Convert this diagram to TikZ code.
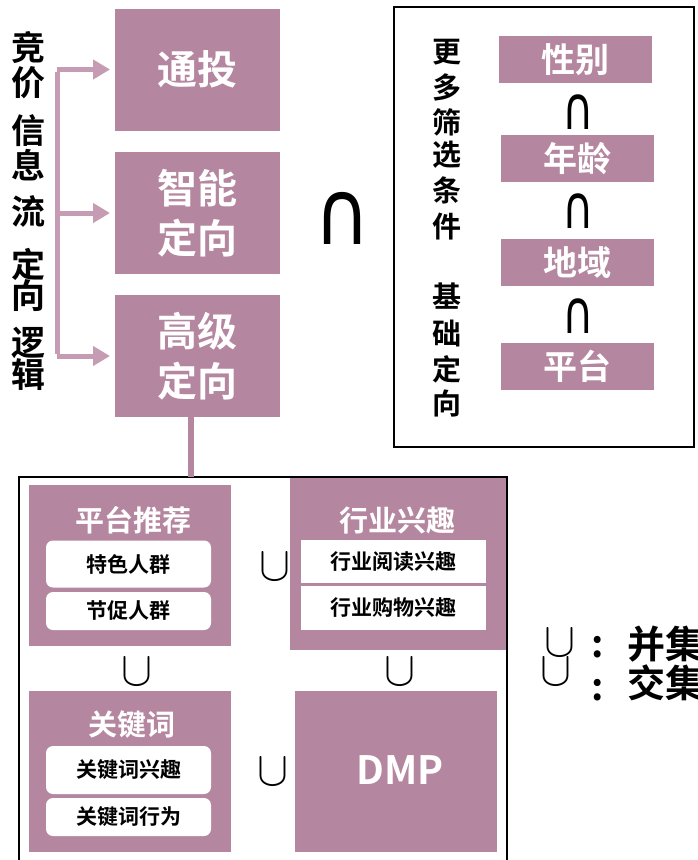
\documentclass[tikz,border=0pt]{standalone}
\usepackage{fontspec}
\setmainfont{Noto Sans CJK SC}[BoldFont={Noto Sans CJK SC Bold}]
\newfontfamily\symf{DejaVu Sans}
\usetikzlibrary{arrows.meta}
\definecolor{mauve}{RGB}{181,134,159}
\definecolor{mauvel}{RGB}{198,156,180}
\tikzset{
  bigbox/.style={fill=mauve, minimum width=165pt, minimum height=122pt, inner sep=0pt, outer sep=0pt,
    text=white, align=center, font=\bfseries\fontsize{40}{50}\selectfont},
  tagbox/.style={fill=mauve, minimum width=153pt, minimum height=47pt, inner sep=0pt, outer sep=0pt,
    text=white, font=\bfseries\fontsize{34}{40}\selectfont},
  panel/.style={fill=mauve, inner sep=0pt, outer sep=0pt},
  ptitle/.style={text=white, inner sep=0pt, font=\bfseries\fontsize{29}{32}\selectfont},
  subr/.style={fill=white, rounded corners=7pt, minimum width=165pt, inner sep=0pt, outer sep=0pt,
    font=\bfseries\fontsize{21}{24}\selectfont},
  subs/.style={fill=white, minimum width=185pt, inner sep=0pt, outer sep=0pt,
    font=\bfseries\fontsize{21}{24}\selectfont},
  lchar/.style={inner sep=0pt, font=\bfseries\fontsize{34}{34}\selectfont},
  rchar/.style={inner sep=0pt, font=\bfseries\fontsize{29}{29}\selectfont},
  cupsym/.style={inner sep=0pt},
  capsym/.style={inner sep=0pt, xscale=0.72, font=\symf\fontsize{60}{60}\selectfont},
  bigcap/.style={inner sep=0pt, xscale=0.85, font=\symf\fontsize{90}{90}\selectfont},
  frame/.style={draw=black, line width=2pt, inner sep=0pt, outer sep=0pt},
  brk/.style={draw=mauvel, line width=5pt},
  brkarrow/.style={draw=mauvel, line width=5pt, -{Triangle[length=17pt,width=19pt]}, shorten >=5pt},
  conn/.style={draw=mauve, line width=6pt},
  legend/.style={inner sep=0pt, font=\bfseries\fontsize{38}{38}\selectfont},
}
\newcommand{\mycup}{\resizebox{31pt}{27pt}{$\cup$}}
\begin{document}
\begin{tikzpicture}[x=1pt, y=-1pt]
\clip (0,0) rectangle (697,860);
\fill[white] (0,0) rectangle (697,860);

% left vertical text
\foreach \c/\yy [count=\i] in {竞/47, 价/83, 信/131, 息/165, 流/211, 定/264, 向/296, 逻/343, 辑/375}
  \node[lchar] (lc\i) at (29,\yy) {\c};

% three main boxes
\node[bigbox] (tt) at (197.5,69.5) {通投};
\node[bigbox] (zn) at (197.5,213) {智能\\定向};
\node[bigbox] (gj) at (197.5,356) {高级\\定向};

% bracket with arrows
\coordinate (b1) at (57,69.5);
\coordinate (b3) at (57,356);
\draw[brk] ([yshift=-2.5pt]b1) -- ([yshift=2.5pt]b3);
\draw[brkarrow] (b1) -- (tt.west);
\draw[brkarrow] (b1 |- zn.west) -- (zn.west);
\draw[brkarrow] (b3) -- (gj.west);

% big intersection
\node[bigcap] (bcap) at (342,218) {∩};

% right panel
\node[frame, minimum width=300pt, minimum height=440pt] (rp) at (544,227) {};
\foreach \c/\yy [count=\i] in {更/52, 多/87, 筛/122, 选/155, 条/190, 件/227, 基/296, 础/333, 定/369, 向/403}
  \node[rchar] (rc\i) at (447,\yy) {\c};
\node[tagbox] (xb) at (575.5,59.5) {性别};
\node[tagbox] (nl) at (577.5,158.5) {年龄};
\node[tagbox] (dy) at (577.5,262.5) {地域};
\node[tagbox] (pt) at (577.5,366.5) {平台};
\node[capsym] (c1) at (578,112) {∩};
\node[capsym] (c2) at (578,211) {∩};
\node[capsym] (c3) at (578,316) {∩};

% bottom panel
\node[panel, minimum width=202pt, minimum height=161pt] (ptj) at (130,565.5) {};
\node[ptitle] (ptjt) at (133,520) {平台推荐};
\node[subr, minimum height=47pt] (tsrq) at (128.5,564) {特色人群};
\node[subr, minimum height=38pt] (jcrq) at (128.5,611) {节促人群};

\node[panel, minimum width=217pt, minimum height=172pt] (hyxq) at (398.5,564) {};
\node[ptitle] (hyxqt) at (397,520) {行业兴趣};
\node[subs, minimum height=43pt] (hyyd) at (393.5,561.5) {行业阅读兴趣};
\node[subs, minimum height=44pt] (hygw) at (393.5,608) {行业购物兴趣};

\node[panel, minimum width=202pt, minimum height=161pt] (gjc) at (130,771.5) {};
\node[ptitle] (gjct) at (132,725) {关键词};
\node[subr, minimum height=48pt] (gjcxq) at (128.5,770) {关键词兴趣};
\node[subr, minimum height=38pt] (gjcxw) at (128.5,817) {关键词行为};

\node[panel, minimum width=202pt, minimum height=161pt] (dmp) at (396,771.5) {};
\node[text=white, inner sep=0pt, font=\bfseries\fontsize{39}{39}\selectfont] (dmpt) at (400,770) {DMP};

\node[cupsym] (u1) at (275,567) {\mycup};
\node[cupsym] (u2) at (137,672) {\mycup};
\node[cupsym] (u3) at (400,672) {\mycup};
\node[cupsym] (u4) at (273,772) {\mycup};

\node[frame, minimum width=488pt, minimum height=420pt] (bb) at (263,687) {};

% connector from 高级定向 to bottom panel
\draw[conn] ([xshift=-6.5pt]gj.south) -- ([xshift=-6.5pt]gj.south |- bb.north);

% legend
\node[cupsym] (lu1) at (560,643) {\mycup};
\node[cupsym] (lu2) at (556,672) {\mycup};
\node[legend] (lcol1) at (598,647) {:};
\node[legend] (lcol2) at (598,690) {:};
\node[legend, anchor=west] (lt1) at (627,644) {并集};
\node[legend, anchor=west] (lt2) at (627,683) {交集};
\end{tikzpicture}
\end{document}
